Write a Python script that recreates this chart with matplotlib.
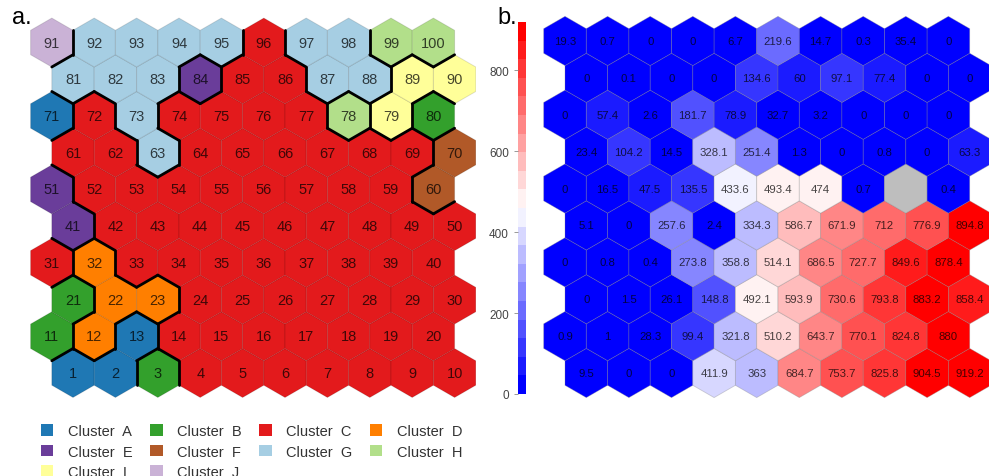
import matplotlib
matplotlib.use("Agg")
import matplotlib.pyplot as plt
import numpy as np
from matplotlib.cm import ScalarMappable
from matplotlib.collections import LineCollection
from matplotlib.colors import LinearSegmentedColormap, Normalize
from matplotlib.patches import Patch, RegularPolygon

plt.rcParams["font.family"] = ["Liberation Sans", "DejaVu Sans"]

# SOM grid: 10 x 10 hexagonal units, unit 1 is bottom-left, numbered row by row
N_ROWS = 10
N_COLS = 10

CLUSTER_NAMES = ["A", "B", "C", "D", "E", "F", "G", "H", "I", "J"]
CLUSTER_COLORS = ["#1F78B4", "#33A02C", "#E31A1C", "#FF7F00", "#6A3D9A",
                  "#B15928", "#A6CEE3", "#B2DF8A", "#FFFF99", "#CAB2D6"]

# cluster of each unit, one string per grid row (units 1-10 first)
UNIT_CLUSTERS = [
    "AABCCCCCCC",
    "BDACCCCCCC",
    "BDDCCCCCCC",
    "CDCCCCCCCC",
    "ECCCCCCCCC",
    "ECCCCCCCCF",
    "CCGCCCCCCF",
    "ACGCCCCHIB",
    "GGGECCGGII",
    "JGGGGCGGHH",
]

# mapped property per unit (same ordering), nan = empty unit
UNIT_VALUES = [
    [9.5, 0, 0, 411.9, 363, 684.7, 753.7, 825.8, 904.5, 919.2],
    [0.9, 1, 28.3, 99.4, 321.8, 510.2, 643.7, 770.1, 824.8, 880],
    [0, 1.5, 26.1, 148.8, 492.1, 593.9, 730.6, 793.8, 883.2, 858.4],
    [0, 0.8, 0.4, 273.8, 358.8, 514.1, 686.5, 727.7, 849.6, 878.4],
    [5.1, 0, 257.6, 2.4, 334.3, 586.7, 671.9, 712, 776.9, 894.8],
    [0, 16.5, 47.5, 135.5, 433.6, 493.4, 474, 0.7, np.nan, 0.4],
    [23.4, 104.2, 14.5, 328.1, 251.4, 1.3, 0, 0.8, 0, 63.3],
    [0, 57.4, 2.6, 181.7, 78.9, 32.7, 3.2, 0, 0, 0],
    [0, 0.1, 0, 0, 134.6, 60, 97.1, 77.4, 0, 0],
    [19.3, 0.7, 0, 0, 6.7, 219.6, 14.7, 0.3, 35.4, 0],
]
COLORBAR_TICKS = [0, 200, 400, 600, 800]

W, H = 989, 477
HEX_R = 1 / np.sqrt(3)


def hex_centers():
    pts = []
    for r in range(N_ROWS):
        for c in range(N_COLS):
            pts.append((c + 0.5 * (r % 2 == 0), r * np.sqrt(3) / 2))
    return np.array(pts)


def place_axes(fig, origin_px, scale, xlim, ylim):
    # origin_px: pixel position (from top-left) of data point (0, 0)
    ox, oy = origin_px
    left = ox + xlim[0] * scale
    right = ox + xlim[1] * scale
    top = oy - ylim[1] * scale
    bottom = oy - ylim[0] * scale
    ax = fig.add_axes([left / W, 1 - bottom / H, (right - left) / W, (bottom - top) / H])
    ax.set_xlim(*xlim)
    ax.set_ylim(*ylim)
    ax.set_aspect("equal")
    ax.axis("off")
    return ax


def boundary_segments(centers, labels):
    segs = []
    for i in range(len(centers)):
        for j in range(i + 1, len(centers)):
            d = centers[j] - centers[i]
            if np.hypot(*d) > 1.01 or labels[i] == labels[j]:
                continue
            mid = (centers[i] + centers[j]) / 2
            perp = np.array([-d[1], d[0]]) * HEX_R / 2
            segs.append([mid - perp, mid + perp])
    return segs


centers = hex_centers()
clusters = [ch for row in UNIT_CLUSTERS for ch in row]
values = np.array([v for row in UNIT_VALUES for v in row], dtype=float)

fig = plt.figure(figsize=(W / 100, H / 100), dpi=100)

# ---- a. cluster map
ax_a = place_axes(fig, (51.8, 374), 42.4, (-0.7, 10.0), (-0.75, 8.55))
for k, (x, y) in enumerate(centers):
    color = CLUSTER_COLORS[CLUSTER_NAMES.index(clusters[k])]
    ax_a.add_patch(RegularPolygon((x, y), 6, radius=HEX_R, facecolor=color,
                                  edgecolor=(0, 0, 0, 0.12), linewidth=0.7))
    ax_a.text(x, y, str(k + 1), ha="center", va="center", fontsize=10.5,
              color="black", alpha=0.72)
ax_a.add_collection(LineCollection(boundary_segments(centers, clusters), colors="black",
                                   linewidths=2.0, capstyle="round"))
fig.text(12 / W, 1 - 18 / H, "a.", fontsize=17, va="center", ha="left")

handles = [Patch(facecolor=c, edgecolor="none") for c in CLUSTER_COLORS]
labels = [f"Cluster  {n}" for n in CLUSTER_NAMES]
order = [0, 4, 8, 1, 5, 9, 2, 6, 3, 7]
fig.legend([handles[i] for i in order], [labels[i] for i in order], ncol=4,
           loc="upper left", bbox_to_anchor=(41 / W, 1 - 425 / H), frameon=False,
           fontsize=10.5, handlelength=0.85, handleheight=0.85, handletextpad=1.0,
           columnspacing=1.2, labelspacing=0.45, labelcolor="#333333",
           borderpad=0, borderaxespad=0)

# ---- b. property map
cmap = LinearSegmentedColormap.from_list("bwr20", ["blue", "white", "red"], N=20)
cmap.set_bad("#BEBEBE")
norm = Normalize(vmin=np.nanmin(values), vmax=np.nanmax(values))

ax_b = place_axes(fig, (565, 374), 42.6, (-0.65, 9.98), (-0.75, 8.6))
for k, (x, y) in enumerate(centers):
    v = values[k]
    ax_b.add_patch(RegularPolygon((x, y), 6, radius=HEX_R, facecolor=cmap(norm(v)),
                                  edgecolor=(0.5, 0.5, 0.5, 0.35), linewidth=0.6))
    if np.isfinite(v):
        ax_b.text(x, y, f"{v:g}", ha="center", va="center", fontsize=8.2,
                  color="black", alpha=0.72)
fig.text(497 / W, 1 - 18 / H, "b.", fontsize=17, va="center", ha="left")

cax = fig.add_axes([518 / W, 1 - 395 / H, 8 / W, 372 / H])
cb = fig.colorbar(ScalarMappable(norm=norm, cmap=cmap), cax=cax, ticks=COLORBAR_TICKS)
cb.outline.set_visible(False)
cax.yaxis.set_ticks_position("left")
cax.tick_params(labelsize=8.5, labelcolor="#444444", color="#888888", length=3, width=0.6)

fig.savefig("out.png", dpi=100)
